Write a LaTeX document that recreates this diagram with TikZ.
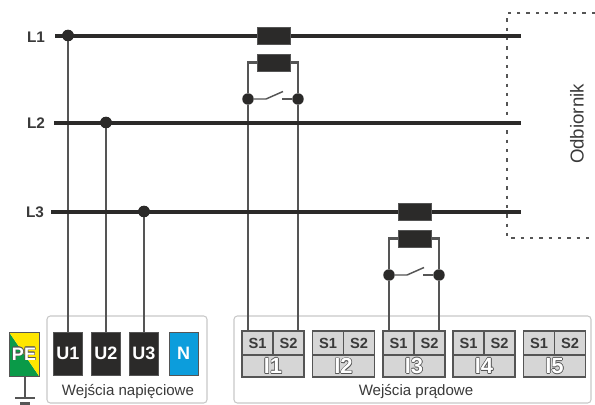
\documentclass[tikz,border=0pt]{standalone}
\usepackage{fontspec}
\setmainfont{Liberation Sans}
\definecolor{ink}{HTML}{2B2A29}
\definecolor{wire}{HTML}{555555}
\definecolor{panel}{HTML}{C8C8C8}
\definecolor{term}{HTML}{D6D6D6}
\definecolor{nblue}{HTML}{0C9DDC}
\definecolor{pegreen}{HTML}{0A9A48}
\definecolor{peyellow}{HTML}{FFE600}
\definecolor{lab}{HTML}{3A3A3A}
\newcommand{\hollowcopy}[3]{\rlap{\kern#1\raisebox{#2}{\textcolor{#3}{\thehollow}}}}
\newcommand{\thehollow}{}
\newcommand{\hollow}[2][wire]{\renewcommand{\thehollow}{#2}%
\hollowcopy{.45pt}{0pt}{#1}\hollowcopy{-.45pt}{0pt}{#1}\hollowcopy{0pt}{.45pt}{#1}\hollowcopy{0pt}{-.45pt}{#1}%
\hollowcopy{.32pt}{.32pt}{#1}\hollowcopy{-.32pt}{.32pt}{#1}\hollowcopy{.32pt}{-.32pt}{#1}\hollowcopy{-.32pt}{-.32pt}{#1}%
\textcolor{white}{#2}}
\tikzset{
  bus/.style={draw=ink,line width=3pt},
  thin wire/.style={draw=wire,line width=1.6pt},
  dot/.style={circle,fill=ink,inner sep=0pt,minimum size=8.6pt,outer sep=0pt},
  fuse/.style={rectangle,draw=wire,line width=.4pt,fill=ink,minimum width=24.6pt,minimum height=12.6pt,inner sep=0pt,outer sep=0pt},
  panelbox/.style={draw=panel,line width=.8pt,rounded corners=2.5pt,fill=white},
  ubox/.style={rectangle,draw=wire,line width=.5pt,fill=ink,text=white,font=\bfseries\fontsize{13.5}{14}\selectfont,minimum width=22pt,minimum height=32pt,inner sep=0pt,outer sep=0pt},
  tcell/.style={rectangle,draw=wire,line width=.9pt,fill=term,text=lab,font=\bfseries\fontsize{11}{12}\selectfont,minimum width=23.2pt,minimum height=18pt,inner sep=0pt,outer sep=0pt},
  tbar/.style={rectangle,draw=wire,line width=.9pt,fill=term,font=\bfseries\fontsize{16.5}{17}\selectfont,minimum width=46.4pt,minimum height=16.5pt,inner sep=0pt,outer sep=0pt},
  phase/.style={text=lab,font=\bfseries\fontsize{11.5}{13}\selectfont,inner sep=0pt},
  caption/.style={text=lab,font=\fontsize{11.3}{13}\selectfont,inner sep=0pt},
  dotted box/.style={draw=wire,line width=1.7pt,dash pattern=on 2.4pt off 4.6pt},
  gnd/.style={draw=wire,line width=1.3pt},
  blade/.style={draw=wire,line width=1.1pt}
}
\begin{document}
\begin{tikzpicture}[x=.75pt,y=-.75pt]
\useasboundingbox (0,0) rectangle (595,404);
\fill[white] (0,0) rectangle (595,404);

% load box
\coordinate (dA) at (595,13);
\coordinate (dB) at (507,13);
\coordinate (dC) at (507,238);
\coordinate (dD) at (595,238);
\draw[dotted box] (dA) -- (dB) -- (dC) -- (dD);
\node[rotate=90,text=lab,font=\fontsize{14}{16}\selectfont,inner sep=0pt] (load) at (577,124) {Odbiornik};

% panels
\draw[panelbox] (47,316) rectangle (207,403);
\draw[panelbox] (234,316) rectangle (591,403);
\node[caption] (capU) at (128,391.5) {Wejścia napięciowe};
\node[caption] (capI) at (416,392) {Wejścia prądowe};

% voltage terminals
\node[ubox] (U1) at (68,353.5) {U1};
\node[ubox] (U2) at (106,353.5) {U2};
\node[ubox] (U3) at (144,353.5) {U3};
\node[ubox,fill=nblue] (N) at (183.5,353.5) {N};

% PE
\fill[pegreen] (9,332) -- (39,376) -- (9,376) -- cycle;
\fill[peyellow] (9,332) -- (39,332) -- (39,376) -- cycle;
\node[rectangle,draw=wire,line width=.6pt,minimum width=22.5pt,minimum height=33pt,inner sep=0pt,outer sep=0pt,font=\bfseries\fontsize{13.5}{14}\selectfont] (PE) at (24,354) {\hollow{PE}};
\coordinate (g0) at (25,398);
\coordinate (gL) at (15,398);
\coordinate (gR) at (35,398);
\coordinate (hL) at (20,403.5);
\coordinate (hR) at (30,403.5);
\draw[gnd] (PE.south -| g0) -- (g0);
\draw[gnd] (gL) -- (gR);
\draw[gnd,line width=1.6pt] (hL) -- (hR);

% current terminals
\foreach \n/\x/\lbl in {1/242/1,2/312.5/2,3/383/3,4/453/4,5/523.5/5}{
  \node[tcell] (a\n) at (\x+15.5,343) {S1};
  \node[tcell] (b\n) at (\x+46.5,343) {S2};
  \node[tbar] (c\n) at (\x+31,366) {\hollow{I\lbl}};
}

% phase labels and bus ends
\node[phase] (L1) at (36,37) {L1};
\node[phase] (L2) at (36,123) {L2};
\node[phase] (L3) at (35,212) {L3};
\coordinate (s1) at (55,35.5);
\coordinate (s2) at (54,122.5);
\coordinate (s3) at (51,211.5);
\coordinate (e1) at (521,35.5);
\coordinate (e2) at (521,122.5);
\coordinate (e3) at (521,211.5);
\node[dot] (j1) at (68,35.5) {};
\node[dot] (j2) at (106,122.5) {};
\node[dot] (j3) at (144,211.5) {};

% taps
\draw[thin wire] (j1) -- (U1);
\draw[thin wire] (j2) -- (U2);
\draw[thin wire] (j3) -- (U3);

% CT 1
\node[dot] (p1) at (248,99) {};
\node[dot] (q1) at (298,99) {};
\node[fuse] (f1b) at (273.5,62.5) {};
\draw[thin wire] (f1b.west) -| (p1);
\draw[thin wire] (f1b.east) -| (q1);
\draw[thin wire] (p1) -- (p1 |- a1.north);
\draw[thin wire] (q1) -- (q1 |- b1.north);
\coordinate (w1) at (266,99);
\coordinate (w1t) at (283,91.5);
\coordinate (w1r) at (282,99);
\draw[blade] (p1) -- (w1) -- (w1t);
\draw[blade] (w1r) -- (q1);

% CT 3
\node[dot] (p3) at (389,275) {};
\node[dot] (q3) at (439,275) {};
\node[fuse] (f3b) at (414.5,238.5) {};
\draw[thin wire] (f3b.west) -| (p3);
\draw[thin wire] (f3b.east) -| (q3);
\draw[thin wire] (p3) -- (p3 |- a3.north);
\draw[thin wire] (q3) -- (q3 |- b3.north);
\coordinate (w3) at (407,275);
\coordinate (w3t) at (424,267.5);
\coordinate (w3r) at (423,275);
\draw[blade] (p3) -- (w3) -- (w3t);
\draw[blade] (w3r) -- (q3);

% buses
\draw[bus] (s1) -- (e1);
\draw[bus] (s2) -- (e2);
\draw[bus] (s3) -- (e3);
\node[dot] at (j1) {};
\node[dot] at (j2) {};
\node[dot] at (j3) {};
\node[fuse] (f1a) at (273.5,36) {};
\node[fuse] (f3a) at (414.5,212) {};
\end{tikzpicture}
\end{document}
